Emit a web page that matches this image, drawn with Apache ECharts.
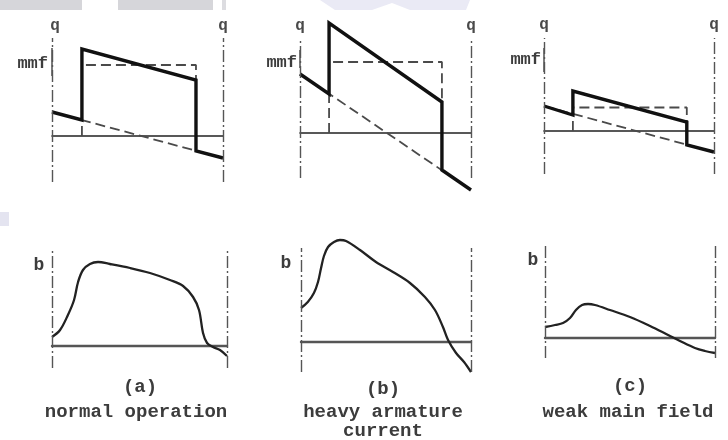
<!DOCTYPE html>
<html>
<head>
<meta charset="utf-8">
<script src="https://cdn.jsdelivr.net/npm/echarts@6/dist/echarts.min.js"></script>
<style>
html,body{margin:0;padding:0;background:#fff;}
#chart{width:728px;height:440px;}
</style>
</head>
<body>
<div id="chart"></div>
<script>
// ---------- DATA (positions along pole pitch 0..1 between q-axes; values in arbitrary units) ----------
// Top row: mmf distributions
const mmfA_x = [0, 0.175, 0.175, 0.842, 0.842, 1];
const mmfA_total = [2.4, 1.6, 8.7, 5.6, -1.5, -2.2];
const mmfA_fieldX = [0.175, 0.175, 0.842, 0.842];
const mmfA_field = [0, 7.1, 7.1, 0];
const mmfA_armX = [0, 1];
const mmfA_arm = [2.4, -2.2];

const mmfB_x = [0, 0.17, 0.17, 0.83, 0.83, 1];
const mmfB_total = [5.9, 3.9, 11.0, 3.1, -3.7, -5.7];
const mmfB_fieldX = [0.17, 0.17, 0.83, 0.83];
const mmfB_field = [0, 7.1, 7.1, 0];
const mmfB_armX = [0, 1];
const mmfB_arm = [5.9, -5.7];

const mmfC_x = [0, 0.17, 0.17, 0.84, 0.84, 1];
const mmfC_total = [2.5, 1.6, 4.0, 0.9, -1.4, -2.1];
const mmfC_fieldX = [0.17, 0.17, 0.84, 0.84];
const mmfC_field = [0, 2.35, 2.35, 0];
const mmfC_armX = [0, 1];
const mmfC_arm = [2.5, -2.1];

// Bottom row: flux density b
const bA_x = [0, 0.046, 0.091, 0.126, 0.149, 0.177, 0.217, 0.263, 0.331, 0.446, 0.56, 0.674, 0.749, 0.806, 0.84, 0.863, 0.886, 0.92, 0.96, 1];
const bA_y = [0.9, 1.6, 3.1, 4.6, 6.4, 7.6, 8.2, 8.4, 8.2, 7.8, 7.3, 6.6, 6.0, 4.9, 3.6, 1.3, 0.3, -0.1, -0.4, -1.0];

const bB_x = [0, 0.04, 0.076, 0.1, 0.118, 0.135, 0.159, 0.194, 0.229, 0.265, 0.347, 0.441, 0.541, 0.641, 0.729, 0.788, 0.835, 0.865, 0.912, 0.959, 1];
const bB_y = [3.4, 4.0, 4.9, 6.0, 7.4, 8.6, 9.5, 10.0, 10.2, 10.1, 9.2, 8.0, 7.0, 5.9, 4.5, 3.2, 1.5, 0.2, -1.1, -2.0, -3.0];

const bC_x = [0, 0.059, 0.106, 0.147, 0.182, 0.218, 0.253, 0.294, 0.382, 0.5, 0.618, 0.724, 0.794, 0.882, 0.941, 1];
const bC_y = [1.1, 1.3, 1.5, 2.0, 2.8, 3.3, 3.4, 3.3, 2.8, 2.1, 1.2, 0.3, -0.3, -1.0, -1.3, -1.5];

const captions = ['(a)', '(b)', '(c)'];
const captionText = [['normal operation'], ['heavy armature', 'current'], ['weak main field']];
const axisLabelQ = 'q';
const axisLabelMmf = 'mmf';
const axisLabelB = 'b';

// ---------- helpers ----------
function pairs(xs, ys) { return xs.map((x, i) => [x, ys[i]]); }

const FONT = '"Liberation Mono", "DejaVu Sans Mono", monospace';
const dashDot = [12, 3, 2, 3];
const qLineStyle = { color: '#555', width: 1.4, type: dashDot };

const grids = [
  { left: 52, top: 38, width: 171, height: 144, ymin: -4.6, ymax: 9.8, zw: 1.6, zc: '#222' },
  { left: 300, top: 38, width: 171, height: 140, ymin: -4.5, ymax: 9.5, zw: 1.6, zc: '#222' },
  { left: 544, top: 38, width: 170, height: 136, ymin: -4.3, ymax: 9.3, zw: 1.6, zc: '#222' },
  { left: 52, top: 250, width: 175, height: 118, ymin: -2.2, ymax: 9.6, zw: 2.4, zc: '#555' },
  { left: 301, top: 248, width: 170, height: 124, ymin: -3.0, ymax: 9.4, zw: 2.4, zc: '#555' },
  { left: 545, top: 246, width: 170, height: 112, ymin: -2.0, ymax: 9.2, zw: 2.4, zc: '#555' }
];

const option = {
  backgroundColor: '#fff',
  animation: false,
  grid: grids.map(g => ({ left: g.left, top: g.top, width: g.width, height: g.height })),
  xAxis: grids.map((g, i) => ({
    type: 'value', gridIndex: i, min: 0, max: 1,
    axisLine: { show: true, onZero: true, lineStyle: { color: g.zc, width: g.zw } },
    axisTick: { show: false }, axisLabel: { show: false }, splitLine: { show: false }
  })),
  yAxis: grids.map((g, i) => ({
    type: 'value', gridIndex: i, min: g.ymin, max: g.ymax, show: false,
    splitLine: { show: false }
  })),
  series: [],
  graphic: []
};

const qMark = {
  silent: true, symbol: 'none', label: { show: false },
  lineStyle: qLineStyle,
  data: [{ xAxis: 0 }, { xAxis: 1 }]
};

const tops = [
  [mmfA_x, mmfA_total, mmfA_fieldX, mmfA_field, mmfA_armX, mmfA_arm],
  [mmfB_x, mmfB_total, mmfB_fieldX, mmfB_field, mmfB_armX, mmfB_arm],
  [mmfC_x, mmfC_total, mmfC_fieldX, mmfC_field, mmfC_armX, mmfC_arm]
];
const dashStyle = { color: '#4a4a4a', width: 1.8, type: [10, 5] };
tops.forEach((t, i) => {
  option.series.push({
    type: 'line', xAxisIndex: i, yAxisIndex: i, clip: false, symbol: 'none',
    data: pairs(t[4], t[5]),
    lineStyle: dashStyle,
    markLine: qMark, z: 2
  });
  option.series.push({
    type: 'line', xAxisIndex: i, yAxisIndex: i, clip: false, symbol: 'none',
    data: pairs(t[2], t[3]),
    lineStyle: dashStyle, z: 2
  });
  option.series.push({
    type: 'line', xAxisIndex: i, yAxisIndex: i, clip: false, symbol: 'none',
    data: pairs(t[0], t[1]),
    lineStyle: { color: '#111', width: 3.4, join: 'miter' }, z: 3
  });
});

const bots = [[bA_x, bA_y], [bB_x, bB_y], [bC_x, bC_y]];
bots.forEach((b, k) => {
  const i = k + 3;
  option.series.push({
    type: 'line', xAxisIndex: i, yAxisIndex: i, clip: false, symbol: 'none', smooth: 0.35,
    data: pairs(b[0], b[1]),
    lineStyle: { color: '#222', width: 2.3 },
    markLine: qMark, z: 3
  });
});

// ---------- text labels ----------
function txt(text, x, y, size, align, color) {
  return {
    type: 'text', x: x, y: y, silent: true, z: 10,
    style: { text: text, font: 'bold ' + size + 'px ' + FONT, fill: color || '#3c3c3c', textAlign: align || 'center', textVerticalAlign: 'middle' }
  };
}
const G = option.graphic;
// scan artefacts along the edge
G.push({ type: 'rect', shape: { x: 0, y: 0, width: 82, height: 10 }, style: { fill: '#d6d6da' }, silent: true });
G.push({ type: 'rect', shape: { x: 118, y: 0, width: 95, height: 10 }, style: { fill: '#d6d6da' }, silent: true });
G.push({ type: 'rect', shape: { x: 222, y: 0, width: 4, height: 10 }, style: { fill: '#dcdce0' }, silent: true });
G.push({ type: 'polygon', shape: { points: [[320, 0], [470, 0], [466, 10], [410, 10], [392, 3], [372, 10], [335, 10]] }, style: { fill: '#eaeaf5' }, silent: true });
G.push({ type: 'rect', shape: { x: 0, y: 212, width: 9, height: 14 }, style: { fill: '#e4e4f0' }, silent: true });

// solid segments of the left q-axes beside the mmf labels
[[52, 48, 76], [300, 50, 68], [544, 48, 72]].forEach(s => G.push({
  type: 'line', silent: true, z: 5, shape: { x1: s[0], y1: s[1], x2: s[0], y2: s[2] },
  style: { stroke: '#444', lineWidth: 1.4 }
}));

// q labels
[[55, 26], [223, 26], [300, 26], [471, 26], [544, 25], [714, 25]].forEach(p => G.push(txt(axisLabelQ, p[0], p[1], 16, 'center', '#4a4a4a')));
// mmf labels
[[48, 64], [297, 63], [541, 60]].forEach(p => G.push(txt(axisLabelMmf, p[0], p[1], 17, 'right', '#3c3c3c')));
// b labels
[[39, 265], [286, 263], [533, 260]].forEach(p => G.push(txt(axisLabelB, p[0], p[1], 18, 'center', '#3c3c3c')));
// captions
const capPos = [[140, 136], [383, 383], [630, 628]];
const capY = [387, 389, 386];
captions.forEach((c, i) => {
  G.push(txt(c, capPos[i][0], capY[i], 19, 'center', '#3c3c3c'));
  captionText[i].forEach((line, j) => G.push(txt(line, capPos[i][1], 412 + j * 19, 19, 'center', '#3c3c3c')));
});

const chart = echarts.init(document.getElementById('chart'), null, { renderer: 'canvas' });
chart.setOption(option);
</script>
</body>
</html>
